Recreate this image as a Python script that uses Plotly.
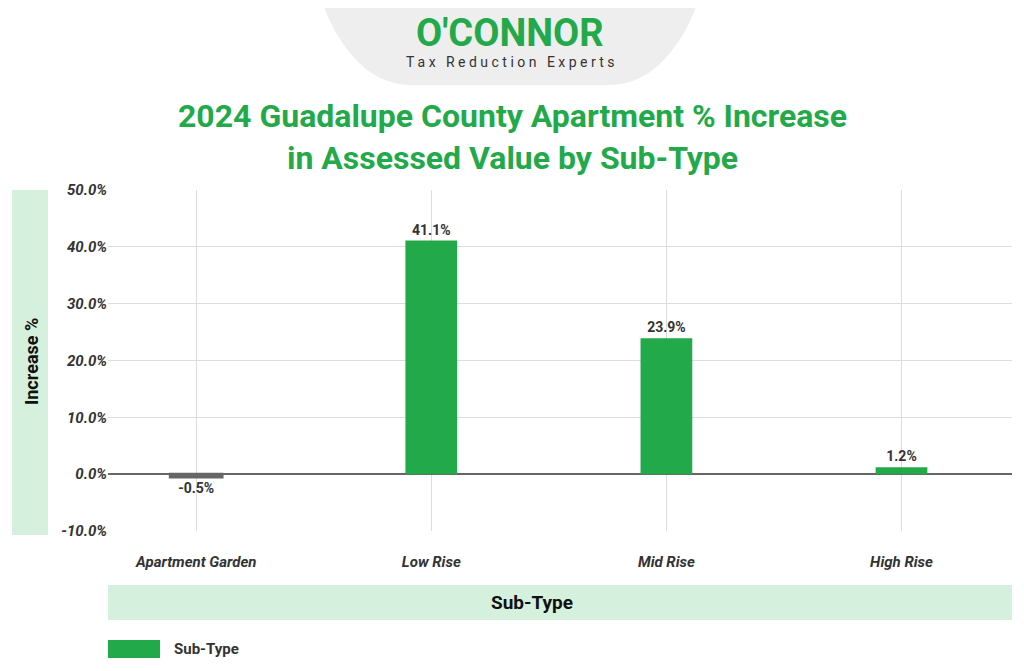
import plotly.graph_objects as go

categories = ["Apartment Garden", "Low Rise", "Mid Rise", "High Rise"]
values = [-0.5, 41.1, 23.9, 1.2]
labels = ["-0.5%", "41.1%", "23.9%", "1.2%"]
tick_vals = [-10, 0, 10, 20, 30, 40, 50]
tick_text = ["-10.0%", "0.0%", "10.0%", "20.0%", "30.0%", "40.0%", "50.0%"]

OFF = 8
W, H = 1024 - OFF, 671 - OFF
L, R, T, B = 108 - OFF, 12, 190 - OFF, 140
PW, PH = W - L - R, H - T - B
def px(x): return (x - OFF - L) / PW
def py(y): return 1 - (y - OFF - T) / PH

GREEN = "#22a94a"
colors = [("#666666" if v < 0 else GREEN) for v in values]

fig = go.Figure(go.Bar(
    x=categories, y=values, marker_color=colors, width=0.22,
    marker_line=dict(color=colors, width=[3, 0, 0, 0]),
    text=labels, textposition="outside", cliponaxis=False,
    textfont=dict(family="Roboto", size=14, color="#333333", weight="bold"),
    name="Sub-Type", showlegend=False))

shapes = [
    dict(type="path", xref="paper", yref="paper",
         path=f"M {px(320)},{py(-5)} L {px(700)},{py(-5)} C {px(690)},{py(30)} {px(660)},{py(85)} {px(610)},{py(85)} L {px(410)},{py(85)} C {px(360)},{py(85)} {px(330)},{py(30)} {px(320)},{py(-5)} Z",
         fillcolor="#eeeeee", line=dict(width=0), layer="below"),
    dict(type="rect", xref="paper", yref="paper", x0=px(12), x1=px(48), y0=py(190), y1=py(535),
         fillcolor="#d5f0dc", line=dict(width=0), layer="below"),
    dict(type="rect", xref="paper", yref="paper", x0=px(108), x1=px(1012), y0=py(585), y1=py(620),
         fillcolor="#d5f0dc", line=dict(width=0), layer="below"),
    dict(type="rect", xref="paper", yref="paper", x0=px(108), x1=px(160), y0=py(640), y1=py(658),
         fillcolor=GREEN, line=dict(width=0)),
]
ann = [
    dict(text="O'CONNOR", x=px(510), y=py(33), font=dict(family="Roboto", size=38, color=GREEN, weight="bold")),
    dict(text="T a x   R e d u c t i o n   E x p e r t s", x=px(510), y=py(62), font=dict(family="Roboto", size=14, color="#333")),
    dict(text="2024 Guadalupe County Apartment % Increase<br>in Assessed Value by Sub-Type", x=px(512), y=py(137),
         font=dict(family="Roboto", size=32, color=GREEN, weight="bold")),
    dict(text="Increase %", x=px(31), y=py(362), textangle=-90,
         font=dict(family="Roboto", size=18, color="#111", weight="bold")),
    dict(text="Sub-Type", x=px(532), y=py(602), font=dict(family="Roboto", size=19, color="#111", weight="bold")),
    dict(text="Sub-Type", x=px(172), y=py(649), xanchor="left",
         font=dict(family="Roboto", size=15, color="#333", weight="bold")),
]
for a in ann:
    a.setdefault("xanchor", "center")
    a.update(xref="paper", yref="paper", yanchor="middle", showarrow=False)

fig.update_layout(
    width=W, height=H, margin=dict(l=L, r=R, t=T, b=B),
    paper_bgcolor="white", plot_bgcolor="white",
    shapes=shapes, annotations=ann, showlegend=False,
    xaxis=dict(range=[-0.375, 3.47], showgrid=True, gridcolor="#dddddd", ticks="", ticklabelstandoff=20,
               tickfont=dict(family="Roboto", size=15, color="#333", style="italic", weight="bold")),
    yaxis=dict(range=[-10, 50], tickvals=tick_vals, ticktext=tick_text, gridcolor="#dddddd",
               zeroline=True, zerolinecolor="#666", zerolinewidth=1.5,
               tickfont=dict(family="Roboto", size=15, color="#333", style="italic", weight="bold")),
)
fig.write_html("out.html")
